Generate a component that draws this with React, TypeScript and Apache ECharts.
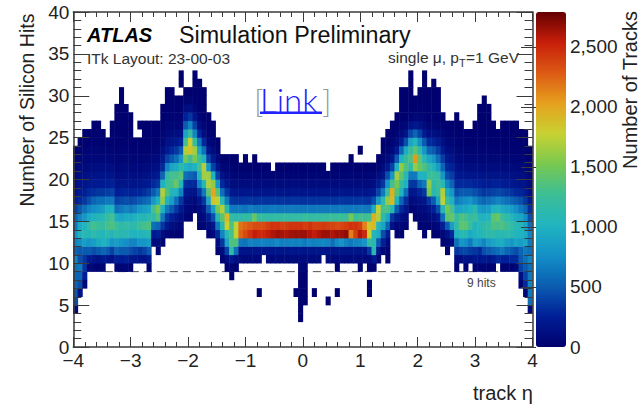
import React, { useEffect, useRef } from "react";
import * as echarts from "echarts";

// each column: [lowest hit row, counts from that row upward]; 0 = empty bin
const c00=[4,80,450,500,550,550,600,700,550,700,800,650,550,400,250,150,120,90,60,40,20];
const c01=[6,150,450,550,650,450,500,750,1000,950,700,500,300,220,160,120,90,60,30,15];
const c02=[7,60,250,350,350,500,850,1100,1000,800,600,350,250,190,130,90,60,40,20,10];
const c03=[9,60,220,500,800,1050,1200,950,700,450,300,200,150,100,70,40,20,10];
const c04=[9,40,180,450,850,1150,1300,1000,750,550,320,210,160,110,70,50,30,15,10];
const c05=[9,30,150,500,950,1100,1250,1050,800,600,350,220,160,120,70,50,30,15,8];
const c06=[9,50,200,550,1000,1050,1200,1100,850,600,350,230,170,110,70,40,20,10];
const c07=[10,180,500,950,1150,1300,1200,1000,650,380,240,170,120,70,40,15];
const c08=[10,150,400,800,1050,1350,1300,1000,650,400,260,180,120,70,50,30,15,8];
const c09=[9,40,250,550,850,1150,1250,950,600,400,250,170,110,70,50,30,20,15,10,6,5];
const c10=[9,50,220,500,800,1100,1150,900,650,420,260,170,120,80,50,35,20,15,10,8,6,5,4];
const c11=[9,60,250,500,750,1100,1200,950,700,450,280,180,130,90,55,35,25,15,10,8,5];
const c12=[9,30,200,450,700,1050,1150,950,650,420,260,180,130,85,55,35,20,12,8,5];
const c13=[10,180,400,700,1000,1150,1000,700,450,270,170,120,80,45,25,12];
const c14=[10,170,350,800,1050,1250,1100,800,500,280,180,120,80,45,25,10,0,8];
const c15=[10,150,400,800,1050,1300,1050,850,550,320,200,140,90,50,30,15,10,6];
const c16=[9,30,200,500,850,1100,1350,1150,900,600,380,220,150,95,55,30,15,10,5];
const c17=[12,80,200,600,1150,1300,800,500,300,190,120,75,45,25,12,6];
const c18=[11,40,100,250,550,1350,1500,1000,650,350,220,130,80,50,25,12,6];
const c19=[12,40,120,350,650,1000,1600,1700,1000,550,300,200,120,70,40,20,10,5];
const c20=[13,60,200,350,650,1000,1350,1250,1200,700,400,240,150,80,50,25,12,6,4];
const c21=[13,40,120,250,500,850,1050,1300,1300,900,500,300,180,100,60,30,15,8,4];
const c22=[13,30,100,180,350,600,1000,1450,1300,950,600,350,200,110,60,30,12,6];
const c23=[13,20,60,120,200,350,700,1050,1400,1150,800,500,260,130,70,35,15,8,0,4,3];
const c24=[15,40,80,130,200,320,600,1000,1500,1700,1300,900,500,260,120,40,6];
const c25=[15,30,70,110,180,300,550,950,1300,1850,1800,1200,700,350,130,40,8];
const c26=[16,40,80,160,300,500,1000,1500,1650,1200,700,400,180,60,15,6,4,3];
const c27=[14,30,60,100,180,350,700,1050,1300,1250,900,650,300,120,45,12,6,4,3];
const c28=[14,60,100,180,350,650,1100,1650,1700,1000,600,300,120,50,18,8,4,3];
const c29=[13,40,100,250,500,900,1400,1700,1650,800,400,180,80,30,12,5];
const c30=[13,80,180,450,850,1850,2000,1600,1000,400,200,100,45,15,6];
const c31=[11,30,100,300,650,1100,1500,1750,1400,800,400,180,80,30,10];
const c32=[10,30,100,350,700,1100,1400,1700,1100,600,300,150,60,15];
const c33=[9,20,100,400,900,1100,1800,1900,1100,650,350,180,90,40,15];
const c34=[8,20,30,200,1150,1350,1300,1350,1200,650,350,200,110,60,25,8];
const c35=[9,15,120,600,1350,1750,1750,1150,650,330,190,110,50,20,8];
const c36=[10,90,170,650,2250,2200,1150,650,330,180,100,50,15];
const c37=[10,80,160,620,2350,2250,1200,620,340,190,100,50,15,6];
const c38=[10,85,170,700,2450,2300,1180,680,350,190,95,45,12];
const c39=[10,80,160,680,2550,2350,1450,650,330,180,100,50,15,5];
const c40=[6,8,0,0,0,85,170,690,2500,2350,1200,640,340,180,95,45,12];
const c41=[11,170,700,2500,2350,1200,640,340,180,95,45,12];
const c42=[10,85,175,680,2550,2400,1180,650,330,180,95,45,12];
const c43=[10,80,170,690,2600,2450,1170,660,340,180,90,30];
const c44=[10,90,180,720,2650,2450,1200,650,330,180,100,45,12];
const c45=[10,85,170,680,2620,2400,1190,640,340,180,95,45,12];
const c46=[10,85,175,690,2600,2420,1200,650,330,180,90,45,12];
const c47=[10,90,180,700,2640,2450,1180,660,340,180,95,45,12];
const c48=[6,10,0,0,0,85,170,690,2650,2450,1200,650,340,180,95,45,12];
const c49=[3,10,10,15,25,30,35,60,100,190,700,2650,2450,1180,650,330,180,95,45,12];
const c50=[5,10,15,15,20,40,90,170,650,2650,2400,1250,650,330,190,100,45,12];
const c51=[10,95,180,700,2600,2450,1200,650,340,180,95,45,12];
const c52=[6,8,0,0,0,85,170,680,2550,2400,1190,640,330,180,95,45,12];
const c53=[10,90,175,700,2600,2400,1200,650,330,180,90,45,12];
const c54=[11,180,720,2650,2420,1210,650,340,180,95,45,12];
const c55=[5,8,0,0,0,0,90,170,700,2650,2400,1220,650,340,180,95,30];
const c56=[10,85,170,600,2600,2380,1250,650,330,180,95,45,12];
const c57=[6,8,0,0,15,80,175,720,2650,2350,1250,650,340,180,95,45,12];
const c58=[10,90,180,800,2650,2380,1250,660,350,190,100,45,12];
const c59=[10,85,170,700,2680,2400,1260,650,340,180,95,45,12];
const c60=[10,85,170,650,2150,2450,1500,650,340,180,95,50,20,6];
const c61=[10,90,175,700,2400,2450,1250,650,340,180,95,45,12];
const c62=[9,15,85,170,720,2600,2400,1300,660,350,190,100,50,15,0,5];
const c63=[10,80,170,800,2500,2150,1280,650,340,180,95,45,12];
const c64=[6,10,10,0,20,80,350,1200,1800,1850,1300,650,330,190,100,50,15];
const c65=[9,20,200,1100,1100,1050,1900,1950,950,450,230,120,60,15];
const c66=[10,60,200,500,950,1050,1700,1750,800,400,220,110,40,10];
const c67=[11,60,250,450,900,1150,1300,1150,650,350,180,90,40,15,8];
const c68=[10,15,30,80,250,550,900,1350,1600,1250,800,450,200,90,40,15,6];
const c69=[14,150,350,1100,1900,1950,1300,800,400,180,80,35,12,6];
const c70=[13,30,70,200,500,1000,1350,1500,1650,1000,500,220,90,35,12,6];
const c71=[13,30,70,130,300,550,1000,1200,1400,1600,1000,550,220,90,35,15,8,5,4];
const c72=[14,40,90,180,320,600,1000,1100,1350,1200,950,450,180,60,20,10,6,4];
const c73=[16,50,100,180,350,650,1150,1350,1200,900,420,150,45,15,8,5,4,3];
const c74=[15,40,70,120,200,350,650,1600,2050,1400,1050,550,200,60,20,8];
const c75=[14,30,50,90,150,280,550,1000,1450,1400,1150,750,400,160,50,18,8,4];
const c76=[13,15,40,60,100,180,350,650,1000,1350,1100,800,500,230,90,35,15,8,5,4,3];
const c77=[14,40,90,170,350,1500,1600,1250,1150,900,550,300,120,50,20,10,6,4];
const c78=[13,15,50,120,250,500,1100,1150,1250,1050,800,500,280,130,50,20,10,6,4,3];
const c79=[13,20,80,200,450,900,1200,1250,1200,850,600,380,220,100,40,18,10,6,4];
const c80=[12,30,80,250,600,1100,1750,1700,1100,800,550,380,230,130,60,25,10];
const c81=[11,20,60,150,500,1400,1500,1250,950,700,450,300,200,120,60,25,10];
const c82=[12,100,300,850,1450,1300,1000,800,550,380,270,180,110,55,22,8];
const c83=[9,15,100,350,600,1000,1150,1200,900,650,450,300,220,150,90,55,30,15,8,5];
const c84=[10,120,400,800,1100,1400,1350,900,700,500,300,200,130,80,50,25,12,6];
const c85=[9,20,180,420,750,1100,1400,1300,950,750,500,300,190,120,70,40,20,8];
const c86=[10,150,380,650,950,1250,1200,1000,800,500,300,180,110,65,35,15,6];
const c87=[9,30,200,350,850,1000,1000,1250,1100,700,450,270,180,120,70,40,20,10,5];
const c88=[9,40,180,300,800,1050,1100,1050,850,600,400,260,170,110,65,40,25,12,8,5,4];
const c89=[9,40,200,450,700,1100,1150,1000,800,550,350,240,160,100,60,35,20,12,8,5,4,3];
const c90=[9,30,180,500,850,1150,1200,1050,850,600,380,240,160,100,60,35,20,12,8,5,4];
const c91=[9,30,220,550,900,1150,1350,1400,1000,650,400,260,170,110,60,30,15,8,5];
const c92=[10,300,600,950,1100,1300,1450,1050,700,420,260,170,100,55,30,15,6];
const c93=[9,20,250,650,950,1100,1350,1250,950,650,400,240,160,100,55,30,15,8,4];
const c94=[9,25,250,550,850,1150,1250,1150,900,600,370,220,150,95,50,28,15,8,4];
const c95=[9,20,300,500,800,1100,1200,1050,850,550,340,210,140,85,50,25,12,6,4];
const c96=[9,60,300,450,900,1050,1100,950,750,500,300,190,130,80,45,22,10,6,4];
const c97=[7,30,120,400,500,550,850,1000,1050,900,650,450,280,170,120,75,40,20,10,5];
const c98=[6,50,300,400,500,600,650,900,950,900,750,550,350,220,150,100,60,35,18,8,4];
const c99=[4,80,600,650,700,650,600,700,600,650,700,600,450,320,200,130,90,60,35,18,8];

const columns = [c00,c01,c02,c03,c04,c05,c06,c07,c08,c09,c10,c11,c12,c13,c14,c15,c16,c17,c18,c19,
  c20,c21,c22,c23,c24,c25,c26,c27,c28,c29,c30,c31,c32,c33,c34,c35,c36,c37,c38,c39,
  c40,c41,c42,c43,c44,c45,c46,c47,c48,c49,c50,c51,c52,c53,c54,c55,c56,c57,c58,c59,
  c60,c61,c62,c63,c64,c65,c66,c67,c68,c69,c70,c71,c72,c73,c74,c75,c76,c77,c78,c79,
  c80,c81,c82,c83,c84,c85,c86,c87,c88,c89,c90,c91,c92,c93,c94,c95,c96,c97,c98,c99];

const colorTicks = [0, 500, 1000, 1500, 2000, 2500];
const colorMax = 2790;
const palette = ["#00006e","#001e96","#0a5cb0","#1490c8","#20b4c0","#3cbe96","#78c850","#c8d232","#e6a01e","#dc5a14","#c81e0a","#640000"];
const cutEta = [-3.45, 3.4];
const cutHits = 9;

const etaBins = columns.map((_, i) => String(i));
const hitBins = Array.from({ length: 40 }, (_, i) => String(i));
const cells: number[][] = [];
columns.forEach((c, k) => {
  c.slice(1).forEach((v, i) => {
    if (v > 0) cells.push([k, c[0] + i, v]);
  });
});

const FONT = "Liberation Sans";
const AX = "#3a3a3a";
const plot = { left: 73.3, top: 12, width: 459.2, height: 335 };
const signed = (v: number) => (v < 0 ? "\u2212" + Math.abs(v) : String(v));

function txt(text: string, x: number, y: number, font: string, fill = "#222", extra: any = {}, align = "left") {
  return {
    type: "text", x, y, silent: true, z: 20, ...extra,
    style: { text, font, fill, textAlign: align, textVerticalAlign: "middle" },
  };
}

export default function App() {
  const ref = useRef<HTMLDivElement>(null);
  useEffect(() => {
    const chart = echarts.init(ref.current!, undefined, { renderer: "svg" });
    const tickLine = { color: AX, width: 1 };
    const valueX = (position: string, labels: boolean) => ({
      type: "value", gridIndex: 1, position, min: -4, max: 4, interval: 1, z: 5,
      axisLine: { show: true, onZero: false, lineStyle: { color: AX, width: 1.5 } },
      axisTick: { show: true, inside: true, length: 10, lineStyle: tickLine },
      minorTick: { show: true, splitNumber: 5, length: 5, lineStyle: tickLine },
      splitLine: { show: false },
      axisLabel: { show: labels, margin: 4, formatter: signed, color: "#222", fontFamily: FONT, fontSize: 19, showMinLabel: true, showMaxLabel: true },
    });
    const valueY = (position: string, labels: boolean) => ({
      type: "value", gridIndex: 1, position, min: 0, max: 40, interval: 5, z: 5,
      axisLine: { show: true, onZero: false, lineStyle: { color: AX, width: 1.5 } },
      axisTick: { show: true, inside: true, length: 16, lineStyle: tickLine },
      minorTick: { show: true, splitNumber: 5, length: 8, lineStyle: tickLine },
      splitLine: { show: false },
      axisLabel: { show: labels, margin: 4, color: "#222", fontFamily: FONT, fontSize: 19, showMinLabel: true, showMaxLabel: true },
    });
    chart.setOption({
      animation: false,
      backgroundColor: "#fff",
      grid: [
        { ...plot },
        { ...plot },
        { left: 536, top: 12, width: 30, height: 335 },
      ],
      xAxis: [
        { type: "category", gridIndex: 0, data: etaBins, show: false },
        valueX("bottom", true),
        valueX("top", false),
        { type: "value", gridIndex: 2, min: 0, max: 1, show: false },
      ],
      yAxis: [
        { type: "category", gridIndex: 0, data: hitBins, show: false },
        valueY("left", true),
        valueY("right", false),
        {
          type: "value", gridIndex: 2, position: "right", min: 0, max: colorMax, z: 5,
          axisLine: { show: false },
          splitLine: { show: false },
          axisTick: { show: true, inside: true, length: 15, customValues: colorTicks, lineStyle: { color: AX, width: 1 } },
          axisLabel: { show: true, customValues: colorTicks, margin: 4, color: "#222", fontFamily: FONT, fontSize: 19 },
        },
      ],
      visualMap: {
        type: "continuous", seriesIndex: 0, min: 0, max: colorMax, calculable: false, show: true,
        left: 536, top: 12, itemWidth: 30, itemHeight: 335, padding: 0, text: null,
        inRange: { color: palette },
      },
      series: [
        {
          type: "heatmap", xAxisIndex: 0, yAxisIndex: 0, data: cells, z: 3, silent: true,
          progressive: 0, emphasis: { disabled: true },
        },
        {
          type: "line", xAxisIndex: 1, yAxisIndex: 1, z: 1, silent: true, symbol: "none",
          data: cutEta.map((e) => [e, cutHits]),
          lineStyle: { color: "#555", width: 1, type: [8, 5] },
        },
      ],
      graphic: [
        txt("Number of Silicon Hits", 27, 110, `19.5px ${FONT}`, "#222", { rotation: Math.PI / 2 }, "center"),
        txt("Number of Tracks", 630, 90, `20px ${FONT}`, "#222", { rotation: Math.PI / 2 }, "center"),
        txt("track \u03b7", 533, 393, `20px ${FONT}`, "#222", {}, "right"),
        txt("ATLAS", 87, 35, `italic bold 20px ${FONT}`, "#000"),
        txt("Simulation Preliminary", 179, 35, `23.3px ${FONT}`, "#111"),
        txt("ITk Layout: 23-00-03", 87, 58, `15.5px ${FONT}`, "#333"),
        txt("single \u03bc, p", 388, 57, `15.5px ${FONT}`, "#333"),
        txt("T", 459, 63, `11px ${FONT}`, "#333"),
        txt("=1 GeV", 466, 57, `15.5px ${FONT}`, "#333"),
        txt("9 hits", 467, 283, `12px ${FONT}`, "#444"),
        txt("[", 254, 100, `300 32px Lato`, "#999"),
        txt("Link", 260, 100, `300 33px Lato`, "#2222ff"),
        txt("]", 322, 100, `300 32px Lato`, "#999"),
        { type: "rect", silent: true, z: 20, shape: { x: 260, y: 111.5, width: 62, height: 2.5 }, style: { fill: "#2222ff" } },
      ],
    });
    return () => chart.dispose();
  }, []);
  return <div ref={ref} style={{ position: "absolute", left: 0, top: 0, width: 644, height: 405 }} />;
}
